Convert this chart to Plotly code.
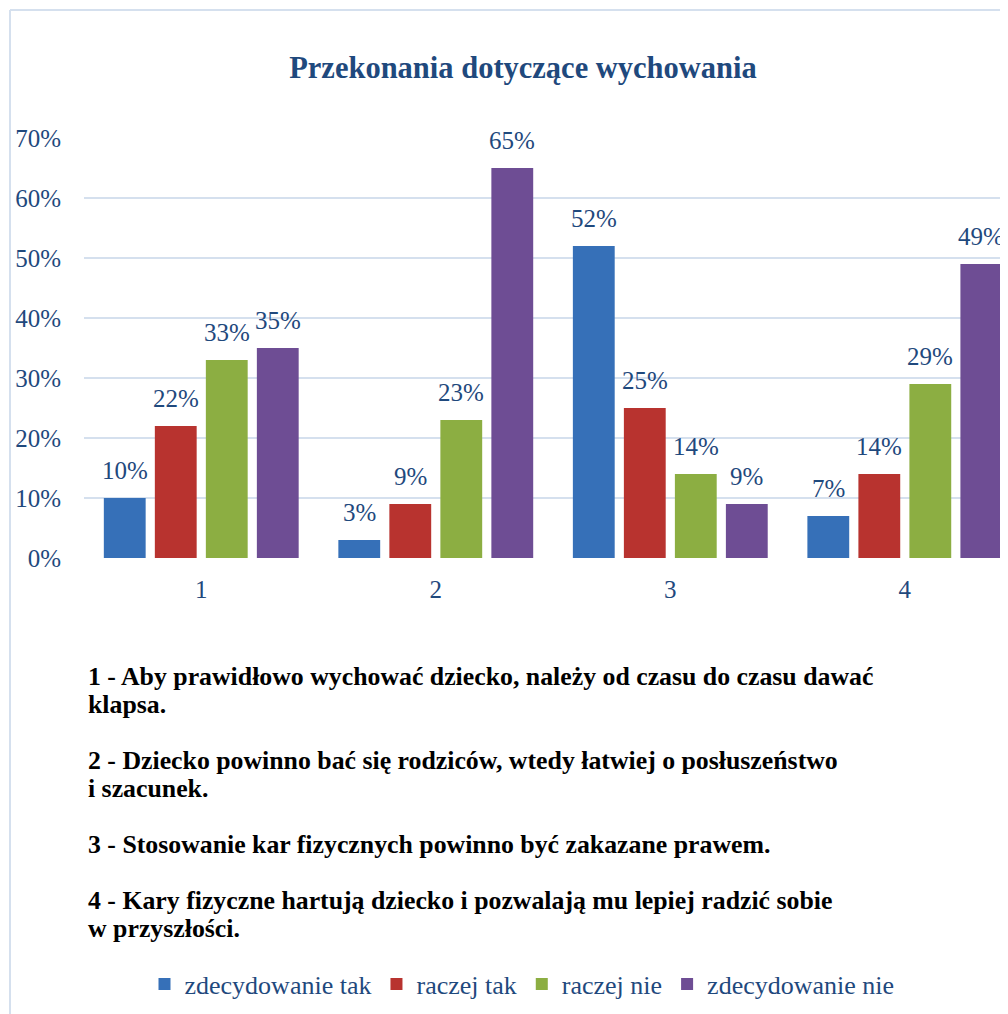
import plotly.graph_objects as go

# chart data
categories = ["1", "2", "3", "4"]
series_names = ["zdecydowanie tak", "raczej tak", "raczej nie", "zdecydowanie nie"]
zdecydowanie_tak = [0.10, 0.03, 0.52, 0.07]
raczej_tak = [0.22, 0.09, 0.25, 0.14]
raczej_nie = [0.33, 0.23, 0.14, 0.29]
zdecydowanie_nie = [0.35, 0.65, 0.09, 0.49]
y_ticks = [0, 0.1, 0.2, 0.3, 0.4, 0.5, 0.6, 0.7]

# footnote lines (each explanation may wrap to two lines)
notes = [
    ["1 - Aby prawidłowo wychować dziecko, należy od czasu do czasu dawać", "klapsa."],
    ["2 - Dziecko powinno bać się rodziców, wtedy łatwiej o posłuszeństwo", "i szacunek."],
    ["3 - Stosowanie kar fizycznych powinno być zakazane prawem."],
    ["4 - Kary fizyczne hartują dziecko i pozwalają mu lepiej radzić sobie", "w przyszłości."],
]

colors = ["#3670b8", "#b8332f", "#8cae42", "#6e4d94"]
serif = "Liberation Serif, DejaVu Serif, serif"
dark_blue = "#1f497d"

# page body adds an 8px margin, so the figure is drawn 8px smaller and shifted
OFF = 8
W, H = 1008 - OFF, 1014 - OFF
left, top, bottom = 84 - OFF, 138 - OFF, 558 - OFF
x_range = [-0.5, 3.44]
bargap, bargroupgap = 0.13, 0.18


def px_x(x):
    return (x - OFF - left) / (W - left)


def px_y(y):
    return 1 - (y - OFF - top) / (bottom - top)


all_series = [zdecydowanie_tak, raczej_tak, raczej_nie, zdecydowanie_nie]

fig = go.Figure()
for name, vals, col in zip(series_names, all_series, colors):
    fig.add_trace(go.Bar(x=categories, y=vals, name=name,
                         marker=dict(color=col, line=dict(width=0))))

# value labels above bars, offset to each bar's slot in the group
cat_px = (W - left) / (x_range[1] - x_range[0])
slot = (1 - bargap) * cat_px / len(all_series)
for i, vals in enumerate(all_series):
    shift = (i - (len(all_series) - 1) / 2) * slot
    for j, v in enumerate(vals):
        fig.add_annotation(x=j, y=v, text=f"{v:.0%}", showarrow=False,
                           xshift=shift, yshift=28, yanchor="middle",
                           font=dict(color=dark_blue, size=25, family=serif))

fig.update_layout(
    width=W, height=H,
    margin=dict(l=left, r=0, t=top, b=H - bottom),
    plot_bgcolor="white", paper_bgcolor="white",
    barmode="group", bargap=bargap, bargroupgap=bargroupgap,
    title=dict(text="<b>Przekonania dotyczące wychowania</b>",
               x=(523 - OFF) / W, xref="container", xanchor="center",
               y=1 - (67 - OFF) / H, yref="container", yanchor="middle",
               font=dict(family=serif, size=30.5, color=dark_blue)),
    showlegend=True,
    legend=dict(orientation="h", x=(522 - OFF) / W, xref="container", xanchor="center",
                y=1 - (984 - OFF) / H, yref="container", yanchor="middle",
                font=dict(family=serif, size=26, color=dark_blue),
                itemwidth=30, traceorder="normal"),
    font=dict(family=serif),
)
fig.update_xaxes(type="category", range=x_range, showgrid=False,
                 tickfont=dict(size=25, color=dark_blue), ticks="",
                 showline=False, zeroline=False, ticklabelstandoff=14)
fig.update_yaxes(range=[0, 0.7], tickvals=y_ticks, tickformat=".0%",
                 gridcolor="#d5e0ee", gridwidth=2, zeroline=False,
                 tickfont=dict(size=25, color=dark_blue),
                 ticklabelstandoff=22)

# footnotes explaining categories
note_y = [676, 760, 844, 900]
for lines, yy in zip(notes, note_y):
    for k, line in enumerate(lines):
        fig.add_annotation(text="<b>" + line + "</b>", xref="paper", yref="paper",
                           x=px_x(86), y=px_y(yy + 28 * k),
                           xanchor="left", yanchor="middle", align="left", showarrow=False,
                           font=dict(family=serif, size=25.8, color="black"))

# chart frame
fig.add_shape(type="line", xref="paper", yref="paper",
              x0=px_x(10), x1=px_x(10), y0=px_y(1014), y1=px_y(10),
              line=dict(color="#d5e0ee", width=2))
fig.add_shape(type="line", xref="paper", yref="paper",
              x0=px_x(10), x1=1, y0=px_y(10), y1=px_y(10),
              line=dict(color="#d5e0ee", width=2))

fig.write_html("out.html")
